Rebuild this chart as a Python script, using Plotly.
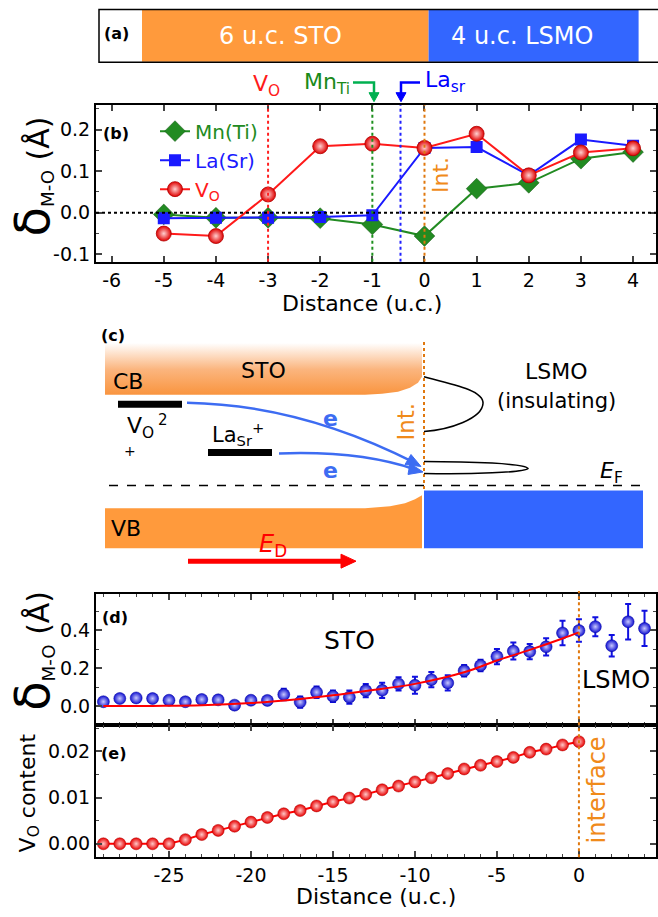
import plotly.graph_objects as go

W, H = 658, 917
FONT = "DejaVu Sans"

# ---------------- data: panel (b) ----------------
dist_b = [-5, -4, -3, -2, -1, 0, 1, 2, 3, 4]
mn_ti = [-0.004, -0.012, -0.012, -0.013, -0.028, -0.056, 0.058, 0.072, 0.130, 0.146]
la_sr = [-0.013, -0.012, -0.012, -0.010, -0.006, 0.156, 0.158, 0.090, 0.176, 0.161]
v_o = [-0.050, -0.056, 0.044, 0.160, 0.166, 0.156, 0.190, 0.090, 0.145, 0.155]
b_xticks = [-6, -5, -4, -3, -2, -1, 0, 1, 2, 3, 4]
b_xticktext = ["-6", "-5", "-4", "-3", "-2", "-1", "0", "1", "2", "3", "4"]
b_yticks = [-0.1, 0.0, 0.1, 0.2]
b_yticktext = ["-0.1", "0.0", "0.1", "0.2"]
pos_vo, pos_mn, pos_la, pos_int = -3, -1, -0.46, 0

# ---------------- data: panel (d) ----------------
dist_d = [-29, -28, -27, -26, -25, -24, -23, -22, -21, -20, -19, -18, -17, -16, -15, -14,
          -13, -12, -11, -10, -9, -8, -7, -6, -5, -4, -3, -2, -1, 0, 1, 2, 3, 4]
delta_d = [0.023, 0.040, 0.043, 0.040, 0.031, 0.023, 0.035, 0.033, 0.005, 0.031, 0.030,
           0.061, 0.021, 0.073, 0.052, 0.047, 0.082, 0.083, 0.117, 0.110, 0.139, 0.122,
           0.186, 0.214, 0.261, 0.290, 0.287, 0.312, 0.385, 0.398, 0.418, 0.318, 0.444, 0.409]
err_d = [0.015, 0.015, 0.012, 0.012, 0.015, 0.020, 0.015, 0.020, 0.020, 0.020, 0.020,
         0.030, 0.030, 0.030, 0.030, 0.035, 0.035, 0.040, 0.035, 0.045, 0.040, 0.040,
         0.030, 0.030, 0.040, 0.045, 0.040, 0.045, 0.064, 0.059, 0.050, 0.057, 0.093, 0.093]
fit_x = [-29, -26, -23, -20, -17, -15, -13, -10, -7, -5, -3, -1, 0]
fit_y = [0.0, 0.001, 0.004, 0.016, 0.038, 0.057, 0.080, 0.117, 0.178, 0.240, 0.296, 0.356, 0.388]
d_yticks = [0.0, 0.2, 0.4]
d_yticktext = ["0.0", "0.2", "0.4"]

# ---------------- data: panel (e) ----------------
dist_e = [-29, -28, -27, -26, -25, -24, -23, -22, -21, -20, -19, -18, -17, -16, -15,
          -14, -13, -12, -11, -10, -9, -8, -7, -6, -5, -4, -3, -2, -1, 0]
vo_content = [0.0, 0.0, 0.0, 0.0, 0.0, 0.0009, 0.0020, 0.0029, 0.0038, 0.0047, 0.0057,
              0.0065, 0.0072, 0.0082, 0.0091, 0.0099, 0.0107, 0.0117, 0.0125, 0.0134,
              0.0143, 0.0152, 0.0162, 0.0170, 0.0178, 0.0187, 0.0198, 0.0205, 0.0214, 0.0221]
e_xticks = [-25, -20, -15, -10, -5, 0]
e_xticktext = ["-25", "-20", "-15", "-10", "-5", "0"]
e_yticks = [0.0, 0.01, 0.02]
e_yticktext = ["0.00", "0.01", "0.02"]

ORANGE = "#ff9a3c"
BLUE_L = "#3366ff"
INT_C = "#e0780e"
INT_T = "#f08a1a"
RED = "#ff1a1a"
GREEN = "#228b22"
BLUE = "#1a1aff"
E_BLUE = "#3d6cf2"


def px(x):
    return x / W


def py(y):
    return 1 - y / H


fig = go.Figure()

# panel (b)
fig.add_trace(go.Scatter(x=dist_b, y=mn_ti, mode="lines+markers",
                         name="<span style='color:#228b22'>Mn(Ti)</span>",
                         line=dict(color=GREEN, width=2),
                         marker=dict(symbol="diamond", size=16, color=GREEN,
                                     line=dict(color="#145214", width=0.5)),
                         xaxis="x", yaxis="y"))
fig.add_trace(go.Scatter(x=dist_b, y=la_sr, mode="lines+markers",
                         name="<span style='color:#1a1aff'>La(Sr)</span>",
                         line=dict(color=BLUE, width=2),
                         marker=dict(symbol="square", size=12, color=BLUE),
                         xaxis="x", yaxis="y"))
fig.add_trace(go.Scatter(x=dist_b, y=v_o, mode="lines+markers",
                         name="<span style='color:#ff1a1a'>V<sub>O</sub></span>",
                         line=dict(color=RED, width=2),
                         marker=dict(symbol="circle", size=15, color="#e00000",
                                     gradient=dict(type="radial", color="#ffd0d0"),
                                     line=dict(color="#b00000", width=0.8)),
                         xaxis="x", yaxis="y"))

# panel (d)
fig.add_trace(go.Scatter(x=dist_d, y=delta_d, mode="markers", showlegend=False,
                         error_y=dict(type="data", array=err_d, color="#1010e0",
                                      thickness=2, width=3),
                         marker=dict(symbol="circle", size=12, color="#1010d0",
                                     gradient=dict(type="radial", color="#c8c8ff"),
                                     line=dict(color="#0000a0", width=0.5)),
                         xaxis="x2", yaxis="y2"))
fig.add_trace(go.Scatter(x=fit_x, y=fit_y, mode="lines", showlegend=False,
                         line=dict(color="#ff0000", width=2, shape="spline"),
                         xaxis="x2", yaxis="y2"))

# panel (e)
fig.add_trace(go.Scatter(x=dist_e, y=vo_content, mode="lines+markers", showlegend=False,
                         line=dict(color="#ff0000", width=2),
                         marker=dict(symbol="circle", size=12, color="#e80000",
                                     gradient=dict(type="radial", color="#ffc8c8"),
                                     line=dict(color="#b00000", width=0.5)),
                         xaxis="x3", yaxis="y3"))

# panel (c) bands (pixel coordinates on a hidden overlay axis)
cb_x = [105, 422, 422, 418, 410, 398, 382, 365, 105]
cb_y = [343, 343, 378, 384, 389, 393, 395, 396, 396]
fig.add_trace(go.Scatter(x=cb_x, y=cb_y, mode="lines", fill="toself", showlegend=False,
                         line=dict(width=0, color="rgba(0,0,0,0)"),
                         fillgradient=dict(type="vertical", start=343, stop=396,
                                           colorscale=[[0, "#ffffff"], [0.5, "#fbb57e"],
                                                       [1, "#f9933c"]]),
                         hoverinfo="skip", xaxis="x4", yaxis="y4"))
vb_x = [105, 365, 390, 405, 415, 422, 422, 105]
vb_y = [510, 510, 508, 505, 501, 497, 550, 550]
fig.add_trace(go.Scatter(x=vb_x, y=vb_y, mode="lines", fill="toself", showlegend=False,
                         fillcolor=ORANGE, line=dict(width=0, color=ORANGE),
                         hoverinfo="skip", xaxis="x4", yaxis="y4"))

axis_common = dict(showline=True, linewidth=2, linecolor="black", mirror="allticks",
                   ticks="inside", tickwidth=1.5, ticklen=6, showgrid=False,
                   zeroline=False, tickfont=dict(family=FONT, size=19, color="black"))
minor_style = dict(ticks="inside", ticklen=3, tickwidth=1.2)

fig.update_layout(
    width=W, height=H, autosize=False,
    margin=dict(l=0, r=0, t=0, b=0),
    paper_bgcolor="white", plot_bgcolor="rgba(0,0,0,0)",
    font=dict(family=FONT, color="black"),
    xaxis=dict(domain=[px(96), px(656)], range=[-6.3, 4.44], anchor="y",
               tickvals=b_xticks, ticktext=b_xticktext, **axis_common),
    yaxis=dict(domain=[py(262.7), py(105)], range=[-0.118, 0.26], anchor="x",
               tickvals=b_yticks, ticktext=b_yticktext,
               minor=dict(dtick=0.05, tick0=0, **minor_style), **axis_common),
    xaxis2=dict(domain=[px(96), px(656)], range=[-29.45, 4.7], anchor="y2",
                dtick=5, tick0=0, showticklabels=False,
                minor=dict(dtick=1, tick0=0, **minor_style), **axis_common),
    yaxis2=dict(domain=[py(727), py(596)], range=[-0.0975, 0.59], anchor="x2",
                tickvals=d_yticks, ticktext=d_yticktext,
                minor=dict(dtick=0.1, tick0=0, **minor_style), **axis_common),
    xaxis3=dict(domain=[px(96), px(656)], range=[-29.45, 4.7], anchor="y3",
                tickvals=e_xticks, ticktext=e_xticktext,
                minor=dict(dtick=1, tick0=0, **minor_style), **axis_common),
    yaxis3=dict(domain=[py(860), py(727)], range=[-0.0029, 0.0258], anchor="x3",
                tickvals=e_yticks, ticktext=e_yticktext,
                minor=dict(dtick=0.005, tick0=0, **minor_style), **axis_common),
    xaxis4=dict(domain=[0, 1], range=[0, W], visible=False, fixedrange=True),
    yaxis4=dict(domain=[0, 1], range=[H, 0], visible=False, fixedrange=True),
    legend=dict(x=px(155), y=py(112), xanchor="left", yanchor="top",
                font=dict(family=FONT, size=20), bgcolor="rgba(0,0,0,0)",
                tracegroupgap=0, itemwidth=30),
)

shapes = []
# panel (a)
shapes.append(dict(type="rect", xref="x4", yref="y4", x0=142, x1=428.6, y0=10, y1=62,
                   fillcolor=ORANGE, line=dict(width=0)))
shapes.append(dict(type="rect", xref="x4", yref="y4", x0=428.6, x1=638.6, y0=10, y1=62,
                   fillcolor=BLUE_L, line=dict(width=0)))
shapes.append(dict(type="rect", xref="x4", yref="y4", x0=99, x1=660, y0=9.5, y1=62.5,
                   line=dict(color="black", width=1.5)))

# panel (b) reference lines
shapes.append(dict(type="line", xref="x", yref="y", x0=-6.3, x1=4.44, y0=0, y1=0,
                   line=dict(color="black", width=2, dash="dot")))
for xv, col in [(pos_vo, "#ff2020"), (pos_mn, "#1e901e"), (pos_la, "#2020ff"),
                (pos_int, INT_C)]:
    shapes.append(dict(type="line", xref="x", yref="y", x0=xv, x1=xv, y0=-0.118, y1=0.26,
                       line=dict(color=col, width=2, dash="dot")))
# bent arrows above (b)
shapes.append(dict(type="path", xref="x4", yref="y4",
                   path="M 353 82.7 L 374 82.7 L 374 94", line=dict(color="#00b050", width=2.5)))
shapes.append(dict(type="path", xref="x4", yref="y4",
                   path="M 369 93 L 379 93 L 374 102 Z", fillcolor="#00b050",
                   line=dict(color="#00b050", width=1)))
shapes.append(dict(type="path", xref="x4", yref="y4",
                   path="M 420 82.7 L 401 82.7 L 401 94", line=dict(color="#0000ff", width=2.5)))
shapes.append(dict(type="path", xref="x4", yref="y4",
                   path="M 396 93 L 406 93 L 401 102 Z", fillcolor="#0000ff",
                   line=dict(color="#0000ff", width=1)))

# panel (c)
shapes.append(dict(type="rect", xref="x4", yref="y4", x0=424, x1=643, y0=492, y1=550,
                   fillcolor=BLUE_L, line=dict(width=0)))
shapes.append(dict(type="line", xref="x4", yref="y4", x0=109, x1=649, y0=487, y1=487,
                   line=dict(color="black", width=1.5, dash="dash")))
shapes.append(dict(type="line", xref="x4", yref="y4", x0=424, x1=424, y0=343, y1=492,
                   line=dict(color=INT_C, width=2, dash="dot")))
shapes.append(dict(type="rect", xref="x4", yref="y4", x0=118, x1=182, y0=402, y1=409,
                   fillcolor="black", line=dict(width=0)))
shapes.append(dict(type="rect", xref="x4", yref="y4", x0=208, x1=272, y0=450.5, y1=457.5,
                   fillcolor="black", line=dict(width=0)))
shapes.append(dict(type="path", xref="x4", yref="y4",
                   path="M 424 378 C 455 386 484 392 483 405 C 482 420 450 431 424 433",
                   line=dict(color="black", width=1.5)))
shapes.append(dict(type="path", xref="x4", yref="y4",
                   path="M 424 463 C 470 463 525 465 528 470 C 525 474 470 476 424 475",
                   line=dict(color="black", width=1.5)))
shapes.append(dict(type="path", xref="x4", yref="y4",
                   path="M 187 404 Q 300 406 414 464", line=dict(color=E_BLUE, width=2.5)))
shapes.append(dict(type="path", xref="x4", yref="y4",
                   path="M 279 455 Q 360 452 415 471", line=dict(color=E_BLUE, width=2.5)))
shapes.append(dict(type="path", xref="x4", yref="y4",
                   path="M 421 468 L 405 466 L 411 456 Z", fillcolor=E_BLUE,
                   line=dict(color=E_BLUE, width=1)))
shapes.append(dict(type="path", xref="x4", yref="y4",
                   path="M 423 473.5 L 408 476 L 410 465 Z", fillcolor=E_BLUE,
                   line=dict(color=E_BLUE, width=1)))
shapes.append(dict(type="line", xref="x4", yref="y4", x0=188, x1=343, y0=563, y1=563,
                   line=dict(color="#ff0000", width=5)))
shapes.append(dict(type="path", xref="x4", yref="y4",
                   path="M 341 556 L 356 563 L 341 570 Z", fillcolor="#ff0000",
                   line=dict(color="#ff0000", width=1)))

# panel (d)/(e) interface line
shapes.append(dict(type="line", xref="x2", yref="paper", x0=0, x1=0, y0=py(860), y1=py(593),
                   line=dict(color=INT_C, width=2, dash="dot")))

fig.update_layout(shapes=shapes)


def ann(x, y, text, size=20, color="black", angle=0, xref="x4", yref="y4", **kw):
    return dict(x=x, y=y, xref=xref, yref=yref, text=text, showarrow=False,
                textangle=angle, font=dict(family=FONT, size=size, color=color), **kw)


DELTA_TITLE = ("<span style='font-size:48px'>δ</span><sub>M-O</sub>"
               "<span style='font-size:30px'> (Å)</span>")

annotations = [
    # (a)
    ann(116, 34, "<b>(a)</b>", 16),
    ann(280, 36, "6 u.c. STO", 24, "white"),
    ann(522, 36, "4 u.c. LSMO", 24, "white"),
    # (b)
    ann(266, 86, "V<sub>O</sub>", 22, "#ff1a1a"),
    ann(327, 84, "Mn<sub>Ti</sub>", 22, "#1a8a1a"),
    ann(445, 82, "La<sub>sr</sub>", 22, "#0000ff"),
    ann(116, 134, "<b>(b)</b>", 16),
    ann(0.31, 0.09, "Int.", 22, INT_T, angle=-90, xref="x", yref="y"),
    ann(32, 177, DELTA_TITLE, 26, angle=-90),
    ann(362, 304, "Distance (u.c.)", 22),
    # (c)
    ann(113, 337, "<b>(c)</b>", 16),
    ann(263, 372, "STO", 22),
    ann(128, 383, "CB", 22),
    ann(556, 373, "LSMO", 22),
    ann(556, 402, "(insulating)", 21),
    ann(140, 429, "V<sub>O</sub>", 22),
    ann(163, 421, "2", 15),
    ann(130, 452, "+", 14),
    ann(238, 435, "La<sub>Sr</sub><sup>+</sup>", 21),
    ann(330, 420, "<b>e</b>", 22, E_BLUE),
    ann(330, 472, "<b>e</b>", 22, E_BLUE),
    ann(406, 423, "Int.", 23, INT_T, angle=-90),
    ann(611, 474, "<i>E</i><sub>F</sub>", 22),
    ann(126, 530, "VB", 22),
    ann(273, 547, "<i>E</i><sub>D</sub>", 24, "#ff0000"),
    # (d)
    ann(115, 620, "<b>(d)</b>", 16),
    ann(349, 643, "STO", 25),
    ann(616, 682, "LSMO", 24),
    ann(32, 653, DELTA_TITLE, 26, angle=-90),
    # (e)
    ann(113, 756, "<b>(e)</b>", 16),
    ann(597, 793, "interface", 24, INT_T, angle=-90),
    ann(29, 796, "V<sub>O</sub> content", 22, angle=-90),
    ann(376, 899, "Distance (u.c.)", 22),
]
fig.update_layout(annotations=annotations)

fig.write_html("out.html", config={"displayModeBar": False},
               post_script="document.body.style.margin='0px';"
                           "document.body.style.overflow='hidden';")
